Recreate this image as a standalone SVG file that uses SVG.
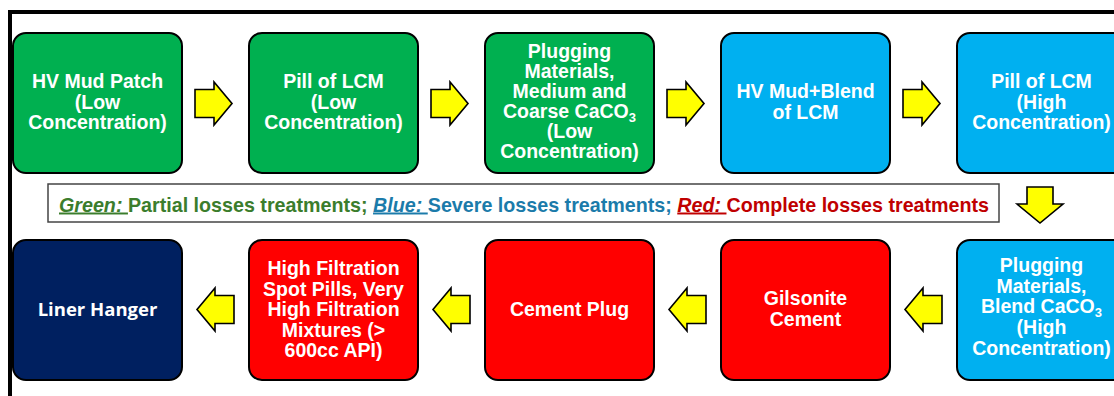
<svg xmlns="http://www.w3.org/2000/svg" xmlns:xlink="http://www.w3.org/1999/xlink" width="1114" height="396" viewBox="0 0 1114 396">
  <style>
    .box { stroke: #000; stroke-width: 2; }
    .green { fill: #00B050; }
    .blue { fill: #00B0F0; }
    .red { fill: #FF0000; }
    .navy { fill: #002060; }
    .lbl { font-family: "Liberation Sans", Arial, sans-serif; font-weight: bold; font-size: 19.5px; fill: #fff; text-anchor: middle; }
    .sub { font-size: 13px; }
    .arrow { fill: #FFFF00; stroke: #000; stroke-width: 1.6; stroke-linejoin: miter; }
    .legend { font-family: "Liberation Sans", Arial, sans-serif; font-weight: bold; font-size: 19.7px; }
    .key { font-style: italic; text-decoration: underline; }
  </style>
  <defs>
    <path id="arrowR" d="M0,-14 L19,-14 L19,-21.5 L37,0 L19,21.5 L19,14 L0,14 Z"/>
  </defs>
  <rect width="1114" height="396" fill="#fff"/>
  <!-- outer frame -->
  <path d="M10,396 L10,12 L1114,12" fill="none" stroke="#000" stroke-width="4"/>

  <!-- top row -->
  <g id="hv-mud-patch">
    <rect class="box green" x="13" y="33" width="169" height="140" rx="13"/>
    <text class="lbl"><tspan x="97.5" y="88">HV Mud Patch</tspan><tspan x="97.5" y="108.5">(Low</tspan><tspan x="97.5" y="129">Concentration)</tspan></text>
  </g>
  <g id="pill-lcm-low">
    <rect class="box green" x="249" y="33" width="169" height="140" rx="13"/>
    <text class="lbl"><tspan x="333.5" y="88">Pill of LCM</tspan><tspan x="333.5" y="108.5">(Low</tspan><tspan x="333.5" y="129">Concentration)</tspan></text>
  </g>
  <g id="plugging-low">
    <rect class="box green" x="485" y="33" width="169" height="140" rx="13"/>
    <text class="lbl"><tspan x="569.5" y="58">Plugging</tspan><tspan x="569.5" y="78">Materials,</tspan><tspan x="569.5" y="98">Medium and</tspan><tspan x="569.5" y="118">Coarse CaCO<tspan class="sub" dy="4">3</tspan></tspan><tspan x="569.5" y="138">(Low</tspan><tspan x="569.5" y="158">Concentration)</tspan></text>
  </g>
  <g id="hv-mud-blend">
    <rect class="box blue" x="721" y="33" width="169" height="140" rx="13"/>
    <text class="lbl"><tspan x="805.5" y="98">HV Mud+Blend</tspan><tspan x="805.5" y="118.5">of LCM</tspan></text>
  </g>
  <g id="pill-lcm-high">
    <rect class="box blue" x="957" y="33" width="169" height="140" rx="13"/>
    <text class="lbl"><tspan x="1041.5" y="88">Pill of LCM</tspan><tspan x="1041.5" y="108.5">(High</tspan><tspan x="1041.5" y="129">Concentration)</tspan></text>
  </g>

  <!-- legend -->
  <g id="legend">
    <rect x="48" y="184" width="951" height="38" fill="#fff" stroke="#444" stroke-width="1.5"/>
    <text class="legend" x="59" y="211.5"><tspan class="key" fill="#3B7D2C">Green: </tspan><tspan fill="#3B7D2C">Partial losses treatments; </tspan><tspan class="key" fill="#1B7BAA">Blue: </tspan><tspan fill="#1B7BAA">Severe losses treatments; </tspan><tspan class="key" fill="#C00000">Red: </tspan><tspan fill="#C00000">Complete losses treatments</tspan></text>
  </g>

  <!-- bottom row -->
  <g id="liner-hanger">
    <rect class="box navy" x="13" y="240" width="169" height="140" rx="13"/>
    <text class="lbl" x="97.5" y="316" style="font-family: 'Open Sans', 'Liberation Sans', sans-serif; font-size: 18.5px;">Liner Hanger</text>
  </g>
  <g id="high-filtration">
    <rect class="box red" x="249" y="240" width="169" height="140" rx="13"/>
    <text class="lbl"><tspan x="333.5" y="275">High Filtration</tspan><tspan x="333.5" y="295.5">Spot Pills, Very</tspan><tspan x="333.5" y="316">High Filtration</tspan><tspan x="333.5" y="336.5">Mixtures (&gt;</tspan><tspan x="333.5" y="357">600cc API)</tspan></text>
  </g>
  <g id="cement-plug">
    <rect class="box red" x="485" y="240" width="169" height="140" rx="13"/>
    <text class="lbl" x="569.5" y="316">Cement Plug</text>
  </g>
  <g id="gilsonite-cement">
    <rect class="box red" x="721" y="240" width="169" height="140" rx="13"/>
    <text class="lbl"><tspan x="805.5" y="305">Gilsonite</tspan><tspan x="805.5" y="325.5">Cement</tspan></text>
  </g>
  <g id="plugging-high">
    <rect class="box blue" x="957" y="240" width="169" height="140" rx="13"/>
    <text class="lbl"><tspan x="1041.5" y="272">Plugging</tspan><tspan x="1041.5" y="292.5">Materials,</tspan><tspan x="1041.5" y="313">Blend CaCO<tspan class="sub" dy="4">3</tspan></tspan><tspan x="1041.5" y="334">(High</tspan><tspan x="1041.5" y="355">Concentration)</tspan></text>
  </g>

  <!-- connectors -->
  <g id="connectors">
    <use xlink:href="#arrowR" class="arrow" transform="translate(195,103.5)"/>
    <use xlink:href="#arrowR" class="arrow" transform="translate(431,103.5)"/>
    <use xlink:href="#arrowR" class="arrow" transform="translate(667,103.5)"/>
    <use xlink:href="#arrowR" class="arrow" transform="translate(903,103.5)"/>
    <path class="arrow" d="M1027,187 L1053,187 L1053,204 L1063,204 L1040,223 L1017,204 L1027,204 Z"/>
    <use xlink:href="#arrowR" class="arrow" transform="translate(234,309.5) scale(-1,1)"/>
    <use xlink:href="#arrowR" class="arrow" transform="translate(470,309.5) scale(-1,1)"/>
    <use xlink:href="#arrowR" class="arrow" transform="translate(706,309.5) scale(-1,1)"/>
    <use xlink:href="#arrowR" class="arrow" transform="translate(942,309.5) scale(-1,1)"/>
  </g>
</svg>
